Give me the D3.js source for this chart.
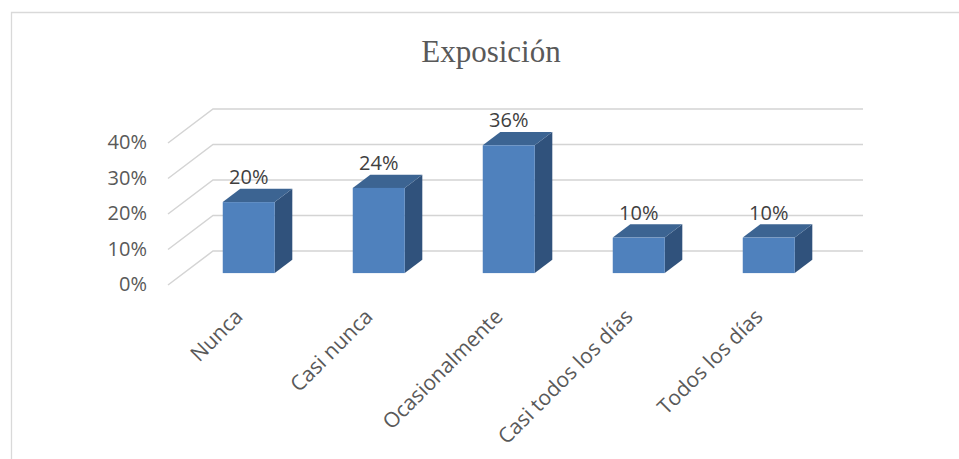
<!DOCTYPE html>
<html>
<head>
<meta charset="utf-8">
<script src="https://cdn.jsdelivr.net/npm/d3@7"></script>
<style>
  body { margin: 0; background: #fff; }
  svg { display: block; }
  .axis-label { font-family: "Open Sans", sans-serif; font-size: 20px; fill: #595959; }
  .cat-label { font-family: "Open Sans", sans-serif; font-size: 21px; fill: #595959; }
  .value-label { font-family: "Open Sans", sans-serif; font-size: 20px; fill: #404040; }
  .title { font-family: "Liberation Serif", serif; font-size: 31px; fill: #595959; }
</style>
</head>
<body>
<div id="chart"></div>
<script>
var categories = ["Nunca", "Casi nunca", "Ocasionalmente", "Casi todos los días", "Todos los días"];
var values = [20, 24, 36, 10, 10];
var yTicks = [0, 10, 20, 30, 40];

var W = 959, H = 459;
// oblique depth of the plot box (front plane -> back wall)
var depth = {dx: 45, dy: 34};
var barFront = 0.35, barBack = 0.74;

var svg = d3.select("#chart").append("svg")
  .attr("width", W)
  .attr("height", H);

// chart area border
svg.append("path")
  .attr("d", "M11.5," + H + "V12.5H" + W)
  .attr("fill", "none")
  .attr("stroke", "#d9d9d9")
  .attr("stroke-width", 1.3);

var x = d3.scaleBand().domain(categories).range([168, 818]);
var y = d3.scaleLinear().domain([0, 40]).range([285, 143]);

svg.append("text")
  .attr("class", "title")
  .attr("x", 491)
  .attr("y", 62)
  .attr("text-anchor", "middle")
  .text("Exposición");

// gridlines: side wall diagonal + back wall
var grid = svg.append("g")
  .attr("fill", "none")
  .attr("stroke", "#d4d4d4")
  .attr("stroke-width", 1.5);

grid.selectAll("path")
  .data(yTicks)
.enter().append("path")
  .attr("d", function(t) {
    var x0 = x.range()[0], x1 = x.range()[1];
    return "M" + x0 + "," + y(t) +
      "L" + (x0 + depth.dx) + "," + (y(t) - depth.dy) +
      "L" + (x1 + depth.dx) + "," + (y(t) - depth.dy);
  });

svg.append("g").selectAll("text")
  .data(yTicks)
.enter().append("text")
  .attr("class", "axis-label")
  .attr("x", 147)
  .attr("y", function(t) { return y(t) + 1; })
  .attr("text-anchor", "end")
  .attr("dominant-baseline", "middle")
  .text(function(t) { return t + "%"; });

// bars
var bw = x.bandwidth() * 0.4;
var ox = depth.dx * barFront, oy = depth.dy * barFront;
var bdx = depth.dx * (barBack - barFront), bdy = depth.dy * (barBack - barFront);

var bars = svg.append("g").selectAll("g")
  .data(values.map(function(v, i) { return {cat: categories[i], value: v}; }))
.enter().append("g");

function pts(a) { return a.map(function(p) { return p.join(","); }).join(" "); }

bars.each(function(d) {
  var g = d3.select(this);
  var x0 = x(d.cat) + x.bandwidth() * 0.3 + ox,
    x1 = x0 + bw,
    yt = y(d.value) - oy,
    yb = y(0) - oy;

  g.append("polygon")
    .attr("points", pts([[x1, yt], [x1 + bdx, yt - bdy], [x1 + bdx, yb - bdy], [x1, yb]]))
    .attr("fill", "#30527c");
  g.append("polygon")
    .attr("points", pts([[x0, yt], [x0 + bdx, yt - bdy], [x1 + bdx, yt - bdy], [x1, yt]]))
    .attr("fill", "#3c6492");
  g.append("rect")
    .attr("x", x0)
    .attr("y", yt)
    .attr("width", bw)
    .attr("height", yb - yt)
    .attr("fill", "#4f81bd");

  g.append("text")
    .attr("class", "value-label")
    .attr("x", x0 + bw / 2)
    .attr("y", yt - 18)
    .attr("text-anchor", "middle")
    .text(d.value + "%");
});

// category labels
svg.append("g").selectAll("text")
  .data(categories)
.enter().append("text")
  .attr("class", "cat-label")
  .attr("text-anchor", "end")
  .attr("transform", function(c) {
    return "translate(" + (x(c) + x.bandwidth() / 2 + 11) + ",318) rotate(-45)";
  })
  .text(function(c) { return c; });
</script>
</body>
</html>
